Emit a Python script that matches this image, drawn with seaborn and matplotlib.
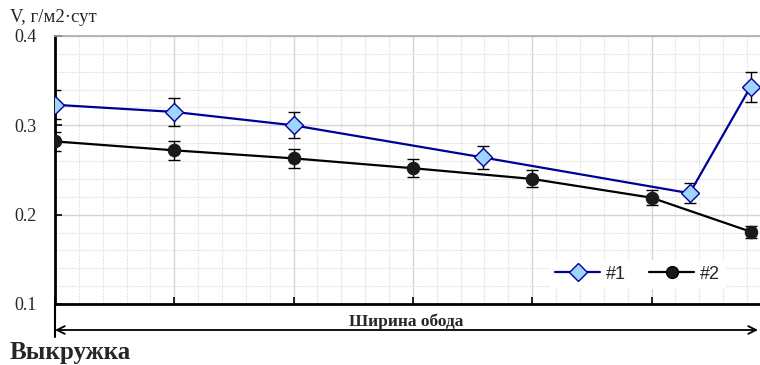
import numpy as np
import pandas as pd
import matplotlib
matplotlib.use("Agg")
import matplotlib.pyplot as plt
from matplotlib.lines import Line2D
from matplotlib.ticker import MultipleLocator, NullFormatter
import seaborn as sns

# series #1 (blue diamonds)
x1 = [0.0, 1.0, 2.0, 3.59, 5.32, 5.83]
v1 = [0.323, 0.315, 0.300, 0.264, 0.224, 0.343]
e1 = [0.016, 0.016, 0.0145, 0.013, 0.011, 0.017]

# series #2 (black circles)
x2 = [0.0, 1.0, 2.0, 3.0, 4.0, 5.0, 5.83]
v2 = [0.282, 0.272, 0.263, 0.252, 0.240, 0.219, 0.181]
e2 = [0.011, 0.0105, 0.0106, 0.010, 0.0095, 0.0085, 0.0067]

y_ticks = [0.1, 0.2, 0.3, 0.4]
y_label = "V, г/м2·сут"
x_caption = "Ширина обода"
corner_caption = "Выкружка"

df = pd.concat([
    pd.DataFrame({"x": x1, "v": v1, "series": "#1"}),
    pd.DataFrame({"x": x2, "v": v2, "series": "#2"}),
])

sns.set_style("white")
plt.rcParams["font.family"] = ["Liberation Serif", "DejaVu Serif"]

fig = plt.figure(figsize=(7.6, 3.65), dpi=100)
ax = fig.add_axes([55 / 760, 1 - 304 / 365, 1 - 55 / 760, (304 - 36) / 365])

navy = "#000099"
# error bars first, under the markers
for xs, vs, es in [(x1, v1, e1), (x2, v2, e2)]:
    ax.errorbar(xs, vs, yerr=es, fmt="none", ecolor="black", elinewidth=1.0,
                capsize=4.3, capthick=1.0, zorder=3)

sns.lineplot(data=df, x="x", y="v", hue="series", style="series",
             palette={"#1": navy, "#2": "black"},
             markers={"#1": "D", "#2": "o"}, dashes=False,
             linewidth=1.6, sort=False, ax=ax, zorder=4, legend=False)

# marker styling per series
for ln in ax.get_lines():
    if ln.get_marker() == "D":
        ln.set_markerfacecolor("#9fd4ff")
        ln.set_markeredgecolor(navy)
        ln.set_markersize(9.5)
        ln.set_markeredgewidth(1.0)
    elif ln.get_marker() == "o":
        ln.set_markerfacecolor("#1a1a1a")
        ln.set_markeredgecolor("#1a1a1a")
        ln.set_markersize(9)

ax.set_xlim(0, 705 / 119.3)
ax.set_ylim(0.1, 0.4)
ax.xaxis.set_major_locator(MultipleLocator(1))
ax.xaxis.set_minor_locator(MultipleLocator(0.2))
ax.yaxis.set_minor_locator(MultipleLocator(0.02))
ax.set_yticks(y_ticks)
ax.set_yticklabels([f"{t:.1f}" for t in y_ticks])
ax.xaxis.set_major_formatter(NullFormatter())

ax.grid(which="major", color="#d4d4d4", linewidth=1.0)
ax.grid(which="minor", color="#e4e4e4", linewidth=0.8, linestyle=(0, (2, 1)))
ax.set_axisbelow(True)

ax.tick_params(axis="x", which="major", direction="in", length=5, width=1.2,
               color="black", bottom=True)
ax.tick_params(axis="y", which="major", direction="in", length=5, width=1.2,
               color="black", left=True, labelsize=13, pad=13)
ax.tick_params(which="minor", length=0)

for side in ["left", "bottom"]:
    ax.spines[side].set_color("black")
    ax.spines[side].set_linewidth(2.0)
ax.spines["top"].set_color("#aaaaaa")
ax.spines["top"].set_linewidth(1.2)
ax.spines["right"].set_visible(False)
ax.set_xlabel("")
ax.set_ylabel("")

# legend
handles = [
    Line2D([], [], color=navy, marker="D", markerfacecolor="#9fd4ff",
           markeredgecolor=navy, markersize=9, linewidth=1.6),
    Line2D([], [], color="black", marker="o", markerfacecolor="#1a1a1a",
           markersize=8.5, linewidth=1.6),
]
ax.legend(handles, ["#1", "#2"], ncol=2, loc="lower right",
          bbox_to_anchor=((725 - 55) / 705, (304 - 288) / 268),
          frameon=True, fancybox=False, framealpha=1.0, edgecolor="white",
          prop={"family": "Liberation Sans", "size": 13},
          handlelength=2.5, columnspacing=1.3, handletextpad=0.3,
          borderpad=0.3, borderaxespad=0)

# text annotations
fig.text(10 / 760, 1 - 17 / 365, y_label, fontsize=13.5, va="center", ha="left")
fig.text(10 / 760, 1 - 352 / 365, corner_caption, fontsize=18, fontweight="bold",
         va="center", ha="left")
fig.text(406 / 760, 1 - 322 / 365, x_caption, fontsize=12.5, fontweight="bold",
         va="center", ha="center")

# width arrow below the axis
fig.add_artist(Line2D([55 / 760, 55 / 760], [1 - 304 / 365, 1 - 337 / 365],
                      color="black", linewidth=1.5))
ax.annotate("", xy=(758 / 760, 1 - 330 / 365), xytext=(55 / 760, 1 - 330 / 365),
            xycoords="figure fraction", textcoords="figure fraction",
            arrowprops=dict(arrowstyle="<->", color="black", lw=1.3,
                            shrinkA=0, shrinkB=0, mutation_scale=14))

fig.savefig("out.png", dpi=100)
